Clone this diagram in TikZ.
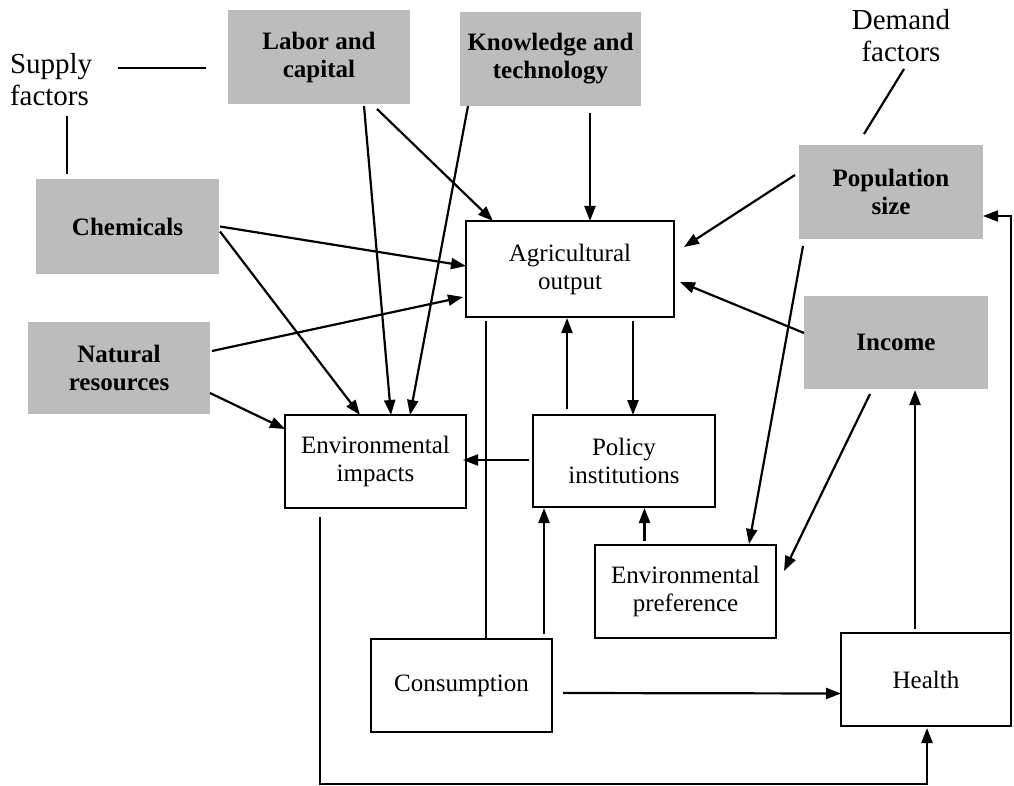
\documentclass[tikz,border=0pt]{standalone}
\usepackage{fontspec}
\setmainfont{Liberation Serif}
\usetikzlibrary{arrows.meta,calc}
\definecolor{boxgray}{RGB}{188,188,188}
\begin{document}
\begin{tikzpicture}[x=1pt,y=-1pt,
  every node/.style={inner sep=0pt, outer sep=0pt, align=center, font=\fontsize{25}{28}\selectfont},
  gbox/.style={fill=boxgray, font=\fontsize{25}{28}\selectfont\bfseries},
  wbox/.style={draw=black, line width=2.4pt, fill=white},
  lbl/.style={font=\fontsize{29}{32}\selectfont},
  arr/.style={line width=2.2pt, -{Triangle[length=15pt,width=11pt]}},
  ln/.style={line width=2.2pt},
]
\useasboundingbox (0,0) rectangle (1014,786);

% labels
\node[lbl, anchor=west, align=left] (sup) at (10,80) {Supply\\factors};
\node[lbl] (dem) at (901,36) {Demand\\factors};

% grey factor boxes
\node[gbox, minimum width=182pt, minimum height=94pt] (lab) at (319,57) {Labor and\\capital};
\node[gbox, minimum width=181pt, minimum height=94pt] (know) at (550.5,59) {Knowledge and\\technology};
\node[gbox, minimum width=183pt, minimum height=95pt] (chem) at (127.5,226.5) {Chemicals};
\node[gbox, minimum width=182pt, minimum height=92pt] (nat) at (119,368) {Natural\\resources};
\node[gbox, minimum width=184pt, minimum height=94pt] (pop) at (891,192) {Population\\size};
\node[gbox, minimum width=184pt, minimum height=93pt] (inc) at (896,342.5) {Income};

% white boxes
\node[wbox, minimum width=208pt, minimum height=96pt] (agri) at (570,269) {Agricultural\\output};
\node[wbox, minimum width=181pt, minimum height=93pt] (envi) at (375.5,461.5) {Environmental\\impacts};
\node[wbox, minimum width=182pt, minimum height=92pt] (pol) at (624,461) {Policy\\institutions};
\node[wbox, minimum width=181pt, minimum height=93pt] (envp) at (685.5,591.5) {Environmental\\preference};
\node[wbox, minimum width=181pt, minimum height=93pt] (cons) at (461.5,685.5) {Consumption};
\node[wbox, minimum width=170pt, minimum height=93pt] (health) at (926,679.5) {Health};

% plain lines to labels
\draw[ln] ($(lab.west)+(-110,11)$) -- ($(lab.west)+(-22,11)$);
\draw[ln] ($(chem.north)+(-60.5,-63)$) -- ($(chem.north)+(-60.5,-5)$);
\draw[ln] ($(pop.north)+(13,-76)$) -- ($(pop.north)+(-27,-11)$);

% supply factor arrows
\draw[arr] ($(lab.south)+(58,5)$) -- ($(agri.north)+(-77,0)$);
\draw[arr] ($(lab.south)+(45,2)$) -- ($(envi.north)+(15.5,0)$);
\draw[arr] ($(know.south)+(-82.5,0)$) -- ($(envi.north)+(34.5,0)$);
\draw[arr] ($(know.south)+(39.5,7)$) -- ($(agri.north)+(20,0)$);
\draw[arr] ($(chem.east)+(1,0)$) -- ($(agri.west)+(0,-3)$);
\draw[arr] ($(chem.east)+(1,5)$) -- ($(envi.north)+(-15.5,0)$);
\draw[arr] ($(nat.east)+(2,-17)$) -- ($(agri.west)+(-3,28)$);
\draw[arr] ($(nat.east)+(0,25)$) -- ($(envi.west)+(0,-32.5)$);

% demand factor arrows
\draw[arr] ($(pop.west)+(-4,-17)$) -- ($(agri.east)+(10,-22)$);
\draw[arr] ($(inc.west)+(0,-9.5)$) -- ($(agri.east)+(6,13)$);
\draw[arr] ($(pop.south)+(-88,7)$) -- ($(envp.north)+(63.5,-1)$);
\draw[arr] ($(inc.south)+(-26,5)$) -- ($(envp.east)+(8,-20.5)$);
\draw[arr] ($(health.north)+(-11,-4)$) -- ($(inc.south)+(19,1)$);

% central arrows
\draw[arr] ($(agri.south)+(63,4)$) -- ($(pol.north)+(9,0)$);
\draw[arr] ($(pol.north)+(-57,-6)$) -- ($(agri.south)+(-3,1)$);
\draw[arr] ($(pol.west)+(-4,-1)$) -- ($(envi.east)+(-3,-1.5)$);
\draw[arr] ($(envp.north)+(-41,-4)$) -- ($(pol.south)+(20.5,1)$);
\draw[arr] ($(cons.north)+(82.5,-5)$) -- ($(pol.south)+(-80,1)$);
\draw[ln] ($(cons.north)+(24.5,0)$) -- ($(agri.south)+(-84,4)$);
\draw[arr] ($(cons.east)+(11,7.5)$) -- ($(health.west)+(0,14)$);

% feedback loops
\coordinate (eiout) at ($(envi.south)+(-55.5,9)$);
\coordinate (hin) at ($(health.south)+(1,2)$);
\coordinate (bot) at (0,784);
\draw[arr] (eiout) -- (eiout |- bot) -| (hin);
\coordinate (popin) at ($(pop.east)+(0,24)$);
\draw[arr] (health.north east) -- (health.north east |- popin) -- (popin);
\end{tikzpicture}
\end{document}
